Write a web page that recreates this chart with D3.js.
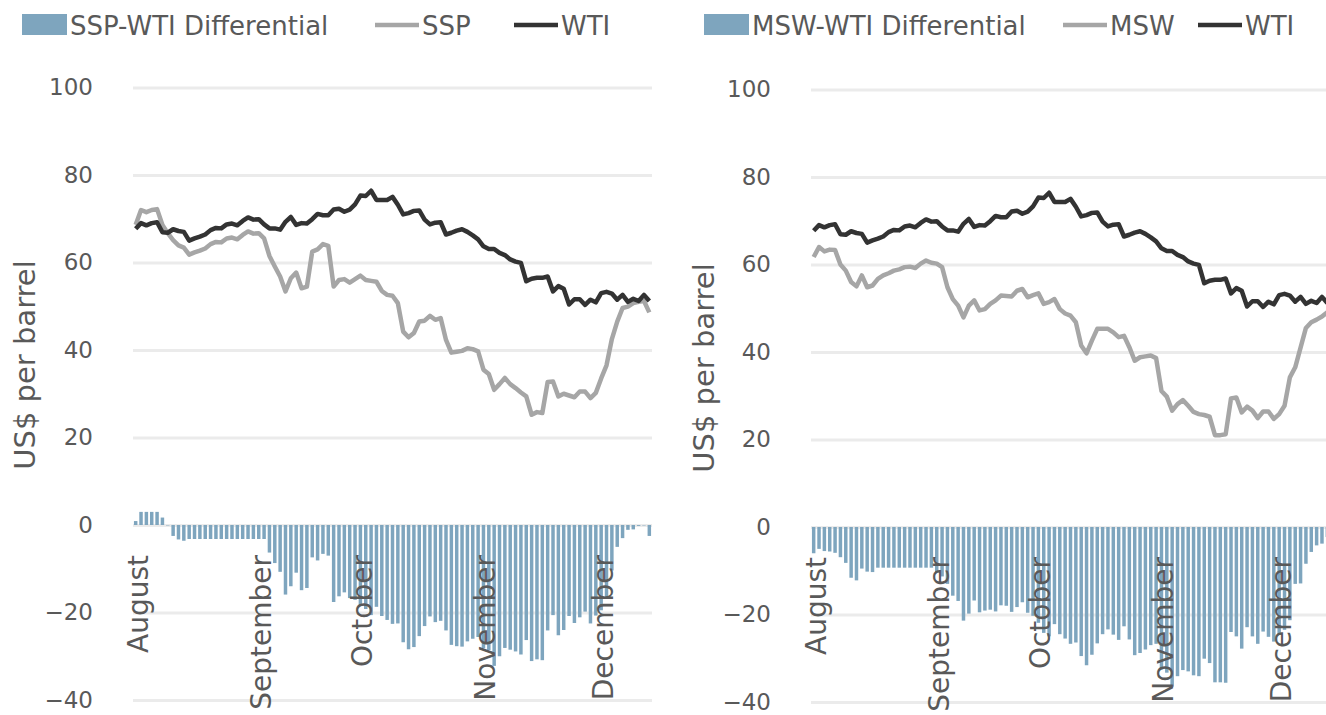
<!DOCTYPE html>
<html lang="en">
<head>
<meta charset="UTF-8">
<title>Canadian crude vs WTI</title>
<style>
  body { margin: 0; background: #fff; }
  svg text { font-family: "DejaVu Sans", sans-serif; fill: #595959; }
</style>
</head>
<body>
<script src="https://d3js.org/d3.v7.min.js"></script>
<script>
// month labels sit on the first trading day of each month
var monthNames = ['August', 'September', 'October', 'November', 'December'];
var monthStarts = [0, 23, 42, 65, 87];
var yTicks = [-40, -20, 0, 20, 40, 60, 80, 100];

// US$ per barrel, daily, Aug 1 - Dec 14
var wti = [
  67.7, 69.0, 68.5, 69.0, 69.2, 66.9, 66.8, 67.6, 67.2, 67.0, 65.0, 65.5, 65.9, 66.4, 67.4, 67.9, 67.8, 68.7, 68.9, 68.5, 69.5, 70.3, 69.8,
  69.9, 68.7, 67.8, 67.8, 67.5, 69.3, 70.4, 68.6, 69.0, 68.9, 69.9, 71.1, 70.8, 70.8, 72.1, 72.3, 71.6, 72.1, 73.3,
  75.3, 75.2, 76.4, 74.3, 74.3, 74.3, 75.0, 73.2, 71.0, 71.3, 71.8, 71.9, 69.8, 68.7, 69.1, 69.2, 66.4, 66.8, 67.3, 67.6, 67.0, 66.2, 65.3,
  63.7, 63.1, 63.1, 62.2, 61.7, 60.7, 60.2, 59.9, 55.7, 56.3, 56.5, 56.5, 56.8, 53.4, 54.6, 54.0, 50.4, 51.6, 51.6, 50.3, 51.5, 50.9,
  53.0, 53.3, 52.9, 51.5, 52.6, 51.0, 51.7, 51.2, 52.6, 51.2
];

var ssp = [
  68.6, 72.0, 71.5, 72.0, 72.2, 68.6, 66.7, 65.1, 63.9, 63.4, 61.8, 62.3, 62.7, 63.2, 64.2, 64.7, 64.6, 65.5, 65.7, 65.3, 66.3, 67.1, 66.6,
  66.7, 65.5, 61.5, 59.1, 56.8, 53.4, 56.4, 57.7, 54.1, 54.5, 62.5, 63.0, 64.2, 63.8, 54.5, 56.0, 56.2, 55.4, 56.2,
  57.0, 56.0, 55.8, 55.6, 53.5, 52.6, 52.4, 50.7, 44.2, 42.9, 43.9, 46.5, 46.7, 47.8, 46.9, 47.3, 42.3, 39.4, 39.6, 39.8, 40.4, 40.2, 39.7,
  35.5, 34.5, 30.9, 32.2, 33.6, 32.2, 31.3, 30.3, 29.4, 25.2, 25.8, 25.6, 32.7, 32.8, 29.4, 30.0, 29.6, 29.2, 30.5, 30.5, 29.0, 30.2,
  33.5, 36.5, 42.5, 46.5, 49.6, 49.9, 50.7, 51.0, 51.2, 48.6
];

var sspDiff = [
  0.9, 3.0, 3.0, 3.0, 3.0, 1.7, -0.1, -2.5, -3.3, -3.6, -3.2, -3.2, -3.2, -3.2, -3.2, -3.2, -3.2, -3.2, -3.2, -3.2, -3.2, -3.2, -3.2,
  -3.2, -3.2, -6.3, -8.7, -10.7, -15.9, -14.0, -10.9, -14.9, -14.4, -7.4, -8.1, -6.6, -7.0, -17.6, -16.3, -15.4, -16.7, -17.1,
  -18.3, -19.2, -20.6, -18.7, -20.8, -21.7, -22.6, -22.5, -26.8, -28.4, -27.9, -25.4, -23.1, -20.9, -22.2, -21.9, -24.1, -27.4, -27.7, -27.8, -26.6, -26.0, -25.6,
  -28.2, -28.6, -32.2, -30.0, -28.1, -28.5, -28.9, -29.6, -26.3, -31.1, -30.7, -30.9, -24.1, -20.6, -25.2, -24.0, -20.8, -22.4, -21.1, -19.8, -22.5, -20.7,
  -19.5, -16.8, -10.4, -5.0, -3.0, -1.1, -1.0, -0.2, -0.1, -2.5
];

var msw = [
  61.7, 64.0, 63.0, 63.4, 63.3, 60.0, 58.6, 56.0, 55.0, 57.5, 54.8, 55.2, 56.7, 57.5, 58.0, 58.6, 58.9, 59.4, 59.5, 59.2, 60.2, 60.9, 60.4,
  60.2, 59.4, 54.8, 52.1, 50.6, 47.9, 50.6, 51.8, 49.5, 49.8, 51.0, 51.8, 52.9, 52.8, 52.7, 54.0, 54.4, 52.5, 53.0,
  53.4, 51.0, 51.4, 52.1, 49.8, 48.8, 48.3, 46.8, 41.5, 39.7, 42.6, 45.3, 45.3, 45.3, 44.5, 43.4, 43.7, 41.1, 38.0, 38.8, 39.0, 39.2, 38.6,
  31.1, 29.8, 26.6, 28.1, 29.0, 27.7, 26.3, 25.8, 25.6, 25.2, 21.0, 21.0, 21.2, 29.4, 29.6, 26.2, 27.5, 26.6, 24.9, 26.4, 26.4, 24.7,
  25.8, 27.7, 34.2, 36.5, 41.0, 45.5, 46.8, 47.4, 48.1, 49.1
];

var mswDiff = [
  -6.0, -5.0, -5.5, -5.6, -5.9, -6.9, -8.2, -11.6, -12.2, -9.5, -10.2, -10.3, -9.3, -9.3, -9.3, -9.3, -9.3, -9.3, -9.3, -9.3, -9.3, -9.3, -9.3,
  -10.3, -11.3, -13.0, -15.7, -16.9, -21.4, -19.8, -16.8, -19.5, -19.1, -18.9, -19.3, -17.9, -18.0, -19.4, -18.3, -17.2, -19.6, -20.3,
  -21.9, -24.2, -25.0, -22.2, -24.5, -25.5, -26.7, -26.4, -29.5, -31.6, -29.2, -26.6, -24.5, -23.4, -24.6, -25.8, -22.7, -25.7, -29.3, -28.8, -28.0, -27.0, -26.7,
  -32.6, -33.3, -36.5, -34.1, -32.7, -33.0, -33.9, -34.1, -30.1, -31.1, -35.5, -35.5, -35.6, -24.0, -25.0, -27.8, -22.9, -25.0, -26.7, -23.9, -25.1, -26.2,
  -24.5, -23.5, -21.3, -13.0, -12.9, -8.4, -5.7, -4.2, -3.8, -2.3
];

var width = 1326, height = 715;
var svg = d3.select('body').append('svg')
    .attr('width', width)
    .attr('height', height);

function drawPanel(p) {
    var g = svg.append('g');
    var n = p.price.length;

    var x = d3.scaleBand()
        .domain(d3.range(n))
        .range([p.left, p.right])
        .paddingInner(0.35)
        .paddingOuter(0.175);
    var y = d3.scaleLinear().domain([-40, 100]).range([p.bottom, p.top]);
    var cx = function(i) { return x(i) + x.bandwidth() / 2; };

    // gridlines + tick labels
    var yAxis = d3.axisLeft(y)
        .tickValues(yTicks)
        .tickSize(-(p.right - p.left))
        .tickPadding(p.labelGap);
    var ax = g.append('g')
        .attr('transform', 'translate(' + p.left + ',0)')
        .call(yAxis);
    ax.select('.domain').remove();
    ax.selectAll('.tick line').attr('stroke', '#ebebeb').attr('stroke-width', 3);
    ax.selectAll('.tick text')
        .attr('fill', '#595959')
        .style('font-size', '23px');

    // differential bars
    g.append('g').selectAll('rect')
        .data(p.diff)
        .enter()
        .append('rect')
        .attr('x', function(d, i) { return x(i); })
        .attr('width', x.bandwidth())
        .attr('y', function(d) { return y(Math.max(0, d)); })
        .attr('height', function(d) { return Math.abs(y(d) - y(0)); })
        .attr('fill', '#7ea5be');

    var line = d3.line()
        .x(function(d, i) { return cx(i); })
        .y(function(d) { return y(d); })
        .curve(d3.curveLinear);

    g.append('path')
        .attr('d', line(p.price))
        .attr('fill', 'none')
        .attr('stroke', '#a6a6a6')
        .attr('stroke-width', 4.5)
        .attr('stroke-linejoin', 'round');

    g.append('path')
        .attr('d', line(p.wti))
        .attr('fill', 'none')
        .attr('stroke', '#333333')
        .attr('stroke-width', 4.5)
        .attr('stroke-linejoin', 'round');

    // month labels, rotated
    g.append('g').selectAll('text')
        .data(monthStarts)
        .enter()
        .append('text')
        .attr('transform', function(d) {
            return 'translate(' + (cx(d) + 12) + ',' + p.monthY + ') rotate(-90)';
        })
        .attr('text-anchor', 'end')
        .style('font-size', '28px')
        .text(function(d, i) { return monthNames[i]; });

    // y axis title
    g.append('text')
        .attr('transform', 'translate(' + p.titleX + ',' + p.titleY + ') rotate(-90)')
        .attr('text-anchor', 'middle')
        .style('font-size', '29px')
        .text('US$ per barrel');

    // legend
    var lg = g.append('g');
    lg.append('rect')
        .attr('x', p.legend[0]).attr('y', 14)
        .attr('width', 45).attr('height', 21)
        .attr('fill', '#7ea5be');
    lg.append('text')
        .attr('x', p.legend[0] + 48).attr('y', 35)
        .style('font-size', '26px')
        .text(p.names[0]);
    [[p.legend[1], '#a6a6a6', p.names[1]], [p.legend[2], '#333333', 'WTI']].forEach(function(e) {
        lg.append('line')
            .attr('x1', e[0]).attr('x2', e[0] + 44)
            .attr('y1', 25).attr('y2', 25)
            .attr('stroke', e[1]).attr('stroke-width', 4.5);
        lg.append('text')
            .attr('x', e[0] + 47).attr('y', 35)
            .style('font-size', '26px')
            .text(e[2]);
    });
}

drawPanel({
    left: 133, right: 652, top: 87.5, bottom: 700,
    labelGap: 40, monthY: 555, titleX: 35, titleY: 365,
    price: ssp, wti: wti, diff: sspDiff,
    names: ['SSP-WTI Differential', 'SSP'],
    legend: [22, 375, 514]
});

drawPanel({
    left: 811, right: 1330, top: 89.5, bottom: 702,
    labelGap: 40, monthY: 557, titleX: 714, titleY: 368,
    price: msw, wti: wti, diff: mswDiff,
    names: ['MSW-WTI Differential', 'MSW'],
    legend: [704, 1063, 1198]
});
</script>
</body>
</html>
